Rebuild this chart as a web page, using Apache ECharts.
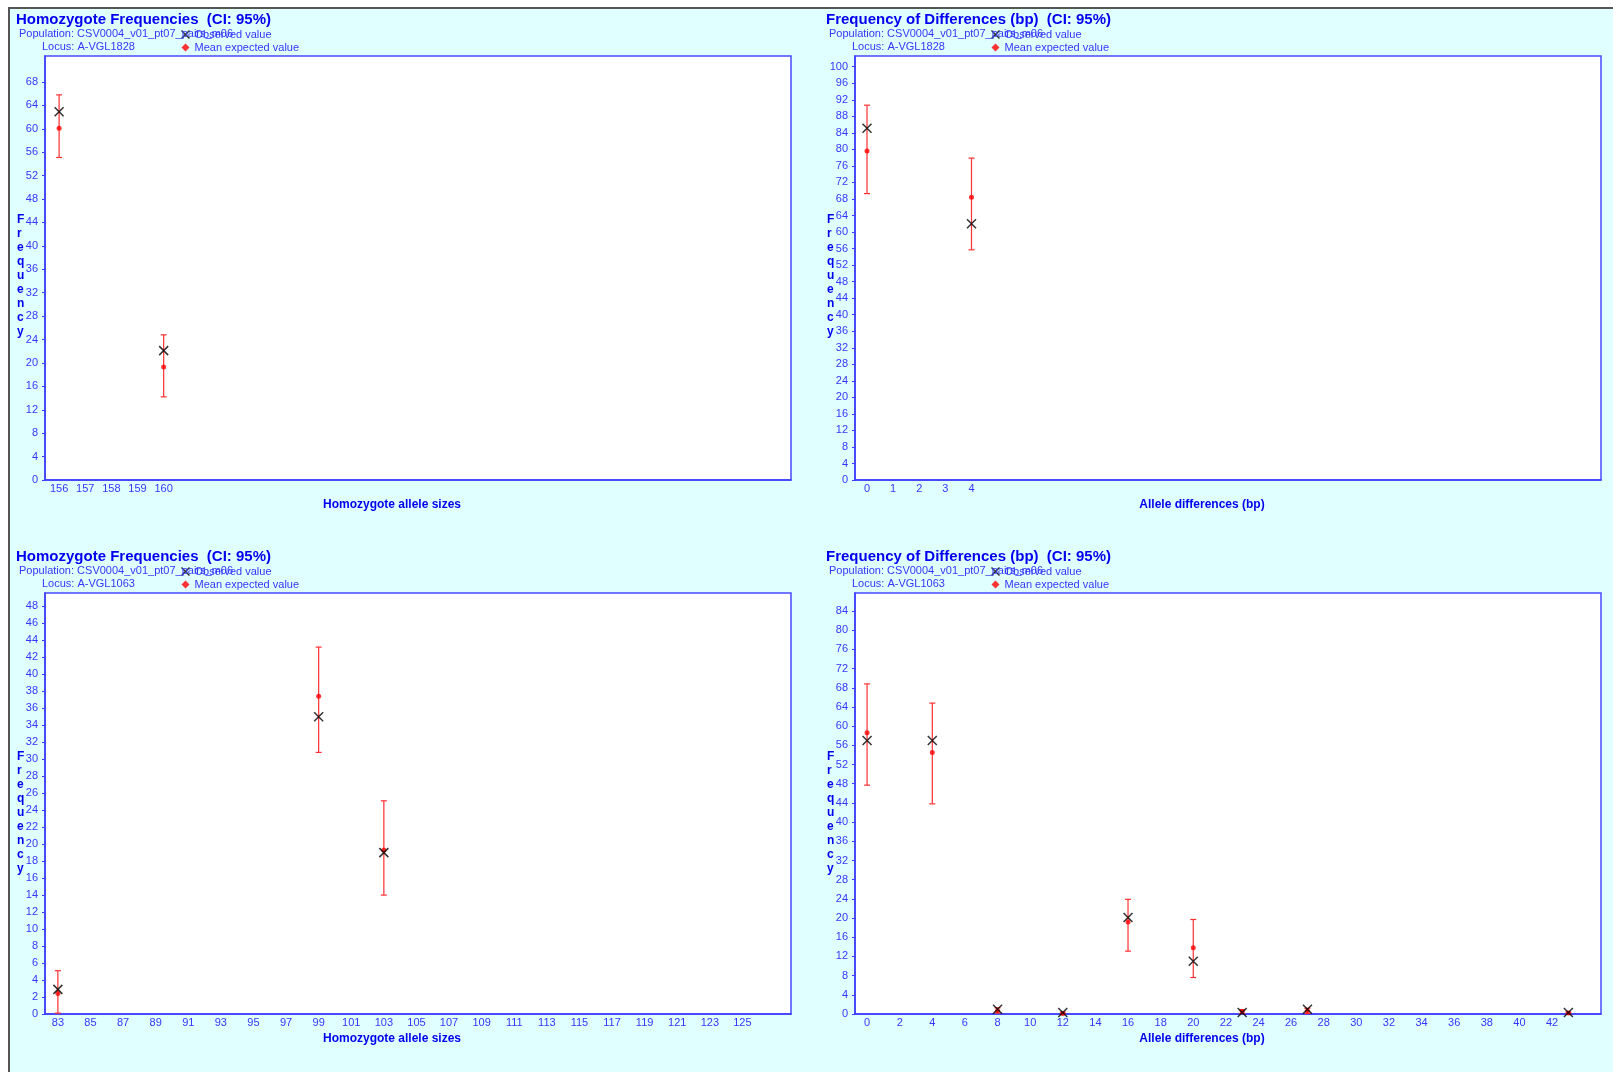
<!DOCTYPE html>
<html>
<head>
<meta charset="utf-8">
<script src="https://cdn.jsdelivr.net/npm/echarts@6/dist/echarts.min.js"></script>
<style>
  html, body { margin: 0; padding: 0; background: #ffffff; }
  #frame { position: absolute; left: 8px; top: 7px; width: 1605px; height: 1065px;
           background: #e0ffff; border-left: 2px solid #555555; border-top: 2px solid #555555; box-sizing: border-box; }
  #chart { position: absolute; left: 0; top: 0; width: 1613px; height: 1072px; }
</style>
</head>
<body>
<div id="frame"></div>
<div id="chart"></div>
<script>
// ---- Locus A-VGL1828 : homozygote frequencies ----
const hz1Sizes    = [156, 160];
const hz1Observed = [62.9, 22.1];
const hz1Expected = [60.1, 19.3];
const hz1Lower    = [55.1, 14.2];
const hz1Upper    = [65.8, 24.8];
const hz1XTicks   = [156, 157, 158, 159, 160];
const hz1YTicks   = [0, 4, 8, 12, 16, 20, 24, 28, 32, 36, 40, 44, 48, 52, 56, 60, 64, 68];

// ---- Locus A-VGL1828 : frequency of differences ----
const df1Diffs    = [0, 4];
const df1Observed = [85.1, 62.0];
const df1Expected = [79.6, 68.4];
const df1Lower    = [69.3, 55.7];
const df1Upper    = [90.7, 77.9];
const df1XTicks   = [0, 1, 2, 3, 4];
const df1YTicks   = [0, 4, 8, 12, 16, 20, 24, 28, 32, 36, 40, 44, 48, 52, 56, 60, 64, 68, 72, 76, 80, 84, 88, 92, 96, 100];

// ---- Locus A-VGL1063 : homozygote frequencies ----
const hz2Sizes    = [83, 99, 103];
const hz2Observed = [2.9, 35.0, 19.0];
const hz2Expected = [2.4, 37.4, 19.3];
const hz2Lower    = [0.1, 30.8, 14.0];
const hz2Upper    = [5.1, 43.2, 25.1];
const hz2XTicks   = [83, 85, 87, 89, 91, 93, 95, 97, 99, 101, 103, 105, 107, 109, 111, 113, 115, 117, 119, 121, 123, 125];
const hz2YTicks   = [0, 2, 4, 6, 8, 10, 12, 14, 16, 18, 20, 22, 24, 26, 28, 30, 32, 34, 36, 38, 40, 42, 44, 46, 48];

// ---- Locus A-VGL1063 : frequency of differences ----
const df2Diffs    = [0, 4, 8, 12, 16, 20, 23, 27, 43];
const df2Observed = [57.0, 57.0, 1.0, 0.3, 20.1, 11.0, 0.3, 1.0, 0.3];
const df2Expected = [58.6, 54.5, 0.7, 0.1, 19.2, 13.8, 0.5, 0.6, 0.2];
const df2Lower    = [47.7, 43.8, 0.2, 0.0, 13.1, 7.6, 0.1, 0.1, 0.0];
const df2Upper    = [68.8, 64.8, 1.3, 0.4, 23.9, 19.7, 0.9, 1.2, 0.4];
const df2XTicks   = [0, 2, 4, 6, 8, 10, 12, 14, 16, 18, 20, 22, 24, 26, 28, 30, 32, 34, 36, 38, 40, 42];
const df2YTicks   = [0, 4, 8, 12, 16, 20, 24, 28, 32, 36, 40, 44, 48, 52, 56, 60, 64, 68, 72, 76, 80, 84];

const populationName = 'CSV0004_v01_pt07_pairs_m06';
const FONT = '"Liberation Sans", Arial, sans-serif';
const TITLE_BLUE = '#0000f0';
const LABEL_BLUE = '#3535ff';
const AXIS_BLUE = '#3c3cff';
const CROSS = 'path://M0,0L10,10M10,0L0,10';

const panels = [
  { title: 'Homozygote Frequencies  (CI: 95%)', locus: 'A-VGL1828', xName: 'Homozygote allele sizes',
    x: hz1Sizes, obs: hz1Observed, exp: hz1Expected, lo: hz1Lower, hi: hz1Upper,
    xTicks: hz1XTicks, yTicks: hz1YTicks, xMin: 155.46, xMax: 184.0, yMax: 72.44,
    left: 45, top: 56, height: 424, ox: 16, oy: 0 },
  { title: 'Frequency of Differences (bp)  (CI: 95%)', locus: 'A-VGL1828', xName: 'Allele differences (bp)',
    x: df1Diffs, obs: df1Observed, exp: df1Expected, lo: df1Lower, hi: df1Upper,
    xTicks: df1XTicks, yTicks: df1YTicks, xMin: -0.46, xMax: 28.1, yMax: 102.6,
    left: 855, top: 56, height: 424, ox: 826, oy: 0 },
  { title: 'Homozygote Frequencies  (CI: 95%)', locus: 'A-VGL1063', xName: 'Homozygote allele sizes',
    x: hz2Sizes, obs: hz2Observed, exp: hz2Expected, lo: hz2Lower, hi: hz2Upper,
    xTicks: hz2XTicks, yTicks: hz2YTicks, xMin: 82.21, xMax: 127.98, yMax: 49.57,
    left: 45, top: 593, height: 421, ox: 16, oy: 537 },
  { title: 'Frequency of Differences (bp)  (CI: 95%)', locus: 'A-VGL1063', xName: 'Allele differences (bp)',
    x: df2Diffs, obs: df2Observed, exp: df2Expected, lo: df2Lower, hi: df2Upper,
    xTicks: df2XTicks, yTicks: df2YTicks, xMin: -0.74, xMax: 45.0, yMax: 87.75,
    left: 855, top: 593, height: 421, ox: 826, oy: 537 }
];

const grid = [], xAxis = [], yAxis = [], series = [], title = [], legend = [], graphic = [];

panels.forEach((p, i) => {
  grid.push({ left: p.left, top: p.top, width: 746, height: p.height, show: true,
              backgroundColor: '#ffffff', borderColor: '#4a4aff', borderWidth: 1.5 });
  xAxis.push({ type: 'value', gridIndex: i, min: p.xMin, max: p.xMax,
    axisLine: { show: true, onZero: false, lineStyle: { color: AXIS_BLUE, width: 1.5 } },
    axisTick: { show: false },
    axisLabel: { customValues: p.xTicks, color: LABEL_BLUE, fontFamily: FONT, fontSize: 11, margin: 3 },
    splitLine: { show: false } });
  yAxis.push({ type: 'value', gridIndex: i, min: 0, max: p.yMax,
    axisLine: { show: true, onZero: false, lineStyle: { color: AXIS_BLUE, width: 1.5 } },
    axisTick: { show: true, customValues: p.yTicks, length: 3, lineStyle: { color: AXIS_BLUE } },
    axisLabel: { customValues: p.yTicks, color: LABEL_BLUE, fontFamily: FONT, fontSize: 11, margin: 7 },
    splitLine: { show: false } });

  // confidence interval bars
  series.push({ type: 'custom', xAxisIndex: i, yAxisIndex: i, silent: true, z: 2,
    data: p.x.map((v, k) => [v, p.lo[k], p.hi[k]]),
    renderItem: (params, api) => {
      const top = api.coord([api.value(0), api.value(2)]);
      const bot = api.coord([api.value(0), api.value(1)]);
      const st = { stroke: '#ff3030', lineWidth: 1.2 };
      return { type: 'group', children: [
        { type: 'line', shape: { x1: top[0], y1: top[1], x2: bot[0], y2: bot[1] }, style: st },
        { type: 'line', shape: { x1: top[0] - 3, y1: top[1], x2: top[0] + 3, y2: top[1] }, style: st },
        { type: 'line', shape: { x1: bot[0] - 3, y1: bot[1], x2: bot[0] + 3, y2: bot[1] }, style: st }
      ] };
    } });
  series.push({ type: 'scatter', name: 'Mean expected value', xAxisIndex: i, yAxisIndex: i, z: 3,
    symbol: 'circle', symbolSize: 5, itemStyle: { color: '#ff0000' },
    data: p.x.map((v, k) => [v, p.exp[k]]) });
  series.push({ type: 'scatter', name: 'Observed value', xAxisIndex: i, yAxisIndex: i, z: 4,
    symbol: CROSS, symbolSize: 9,
    itemStyle: { color: 'none', borderColor: '#000000', borderWidth: 1.5 },
    data: p.x.map((v, k) => [v, p.obs[k]]) });

  title.push({ text: p.title, left: p.ox, top: p.oy + 11, padding: 0,
    textStyle: { fontFamily: FONT, fontSize: 15, fontWeight: 'bold', color: TITLE_BLUE, lineHeight: 17 } });
  title.push({ text: 'Population: ' + populationName, left: p.ox + 3, top: p.oy + 28, padding: 0,
    textStyle: { fontFamily: FONT, fontSize: 11, fontWeight: 'normal', color: LABEL_BLUE, lineHeight: 12 } });
  title.push({ text: 'Locus: ' + p.locus, left: p.ox + 26, top: p.oy + 40.5, padding: 0,
    textStyle: { fontFamily: FONT, fontSize: 11, fontWeight: 'normal', color: LABEL_BLUE, lineHeight: 12 } });

  legend.push({ orient: 'vertical', left: p.ox + 163, top: p.oy + 28, padding: 0, itemGap: 0.5,
    itemWidth: 8, itemHeight: 8, selectedMode: false,
    data: [{ name: 'Observed value', icon: CROSS,
             itemStyle: { color: 'none', borderColor: '#000000', borderWidth: 1.5 } },
           { name: 'Mean expected value', icon: 'diamond', itemStyle: { color: '#ff0000' } }],
    textStyle: { fontFamily: FONT, fontSize: 11, color: LABEL_BLUE, lineHeight: 12 } });

  graphic.push({ type: 'text', left: p.ox + 1, top: p.top + 157, silent: true,
    style: { text: 'F\nr\ne\nq\nu\ne\nn\nc\ny', fill: TITLE_BLUE, font: 'bold 12px ' + FONT, lineHeight: 14 } });
  graphic.push({ type: 'text', x: p.left + 347, y: p.top + p.height + 25, silent: true,
    style: { text: p.xName, fill: TITLE_BLUE, font: 'bold 12px ' + FONT, align: 'center', verticalAlign: 'middle' } });
});

const chart = echarts.init(document.getElementById('chart'), null, { renderer: 'canvas' });
chart.setOption({
  backgroundColor: 'transparent',
  animation: false,
  title, legend, grid, xAxis, yAxis, series, graphic
});
</script>
</body>
</html>
